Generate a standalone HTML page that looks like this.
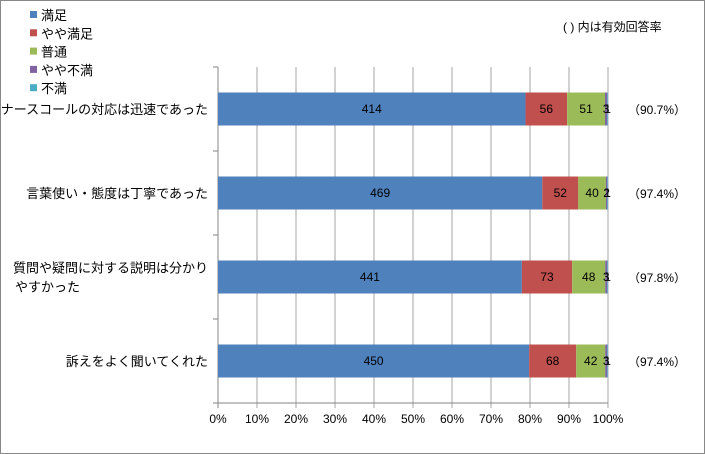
<!DOCTYPE html>
<html><head><meta charset="utf-8"><style>
body{margin:0;background:#fff}
svg{display:block;font-family:"Liberation Sans","Noto Sans CJK JP",sans-serif}
</style></head><body>
<svg id="c" width="705" height="454">
<rect x="0.5" y="0.5" width="704" height="453" fill="#fff" stroke="#888"/>
<text x="563" y="31" font-size="12" fill="#000">( ) 内は有効回答率</text>
</svg>
<script>
const categories=["ナースコールの対応は迅速であった","言葉使い・態度は丁寧であった","質問や疑問に対する説明は分かり|やすかった","訴えをよく聞いてくれた"];
const seriesNames=["満足","やや満足","普通","やや不満","不満"];
const satisfied=[414,469,441,450];
const somewhatSatisfied=[56,52,73,68];
const neutral=[51,40,48,42];
const somewhatDissatisfied=[3,2,3,3];
const dissatisfied=[1,1,1,1];
const rates=["（90.7%）","（97.4%）","（97.8%）","（97.4%）"];
const ticks=[0,10,20,30,40,50,60,70,80,90,100];
const colors=["#4f81bd","#c0504d","#9bbb59","#8064a2","#4bacc6"];
const series=[satisfied,somewhatSatisfied,neutral,somewhatDissatisfied,dissatisfied];
const svg=document.getElementById('c');const NS="http://www.w3.org/2000/svg";
const X0=218,X1=608,Y0=67,Y1=403;
const xs=p=>X0+(X1-X0)*p/100;
const band=(Y1-Y0)/categories.length;
function mk(t,a,txt){const e=document.createElementNS(NS,t);for(const k in a)e.setAttribute(k,a[k]);if(txt!=null)e.textContent=txt;svg.appendChild(e);return e;}
ticks.forEach(t=>{
 const g=mk('line',{x1:xs(t),x2:xs(t),y1:Y0,y2:Y1+5,stroke:t===0?'#868686':'#a6a6a6'});
 
 
 const l=mk('text',{x:xs(t),y:423,'font-size':12,'text-anchor':'middle'},t+'%');
 
 
});
mk('line',{x1:X0,x2:X1,y1:Y1,y2:Y1,stroke:'#868686'});
for(let i=0;i<=categories.length;i++){mk('line',{x1:X0-5,x2:X0,y1:Y0+i*band,y2:Y0+i*band,stroke:'#868686'});}
categories.forEach((c,i)=>{
 const tot=series.reduce((s,a)=>s+a[i],0);
 const cy=Y0+band*(i+0.5);const bh=33;
 let acc=0;
 series.forEach((a,j)=>{
  const x=xs(acc/tot*100);acc+=a[i];const w=xs(acc/tot*100)-x;
  const r=mk('rect',{x:x,y:cy-bh/2,width:w,height:bh,fill:colors[j]});
  
  
  const t=mk('text',{x:x+w/2,y:cy+4,'font-size':12,'text-anchor':'middle'},a[i]);
  
  
 });
 const parts=c.split('|');
 parts.forEach((p,k)=>{
  const t=mk('text',{x:parts.length>1?60:208,y:cy+5+(k-(parts.length-1)/2)*19-(parts.length>1?0:0),'font-size':13,'text-anchor':parts.length>1?'start':'end'},p);
  if(parts.length>1&&k===0){t.setAttribute('x',208);t.setAttribute('text-anchor','end');}
  if(parts.length>1&&k===1){t.setAttribute('x',15);}
  
  
 });
 const rt=mk('text',{x:628,y:cy+5,'font-size':12},rates[i]);
 
 
});
seriesNames.forEach((n,j)=>{
 const y=15+j*18.3;
 const r=mk('rect',{x:30,y:y-4,width:7,height:7,fill:colors[j]});
 
 
 const t=mk('text',{x:41,y:y+5,'font-size':13},n);
 
 
});
</script>
</body></html>
